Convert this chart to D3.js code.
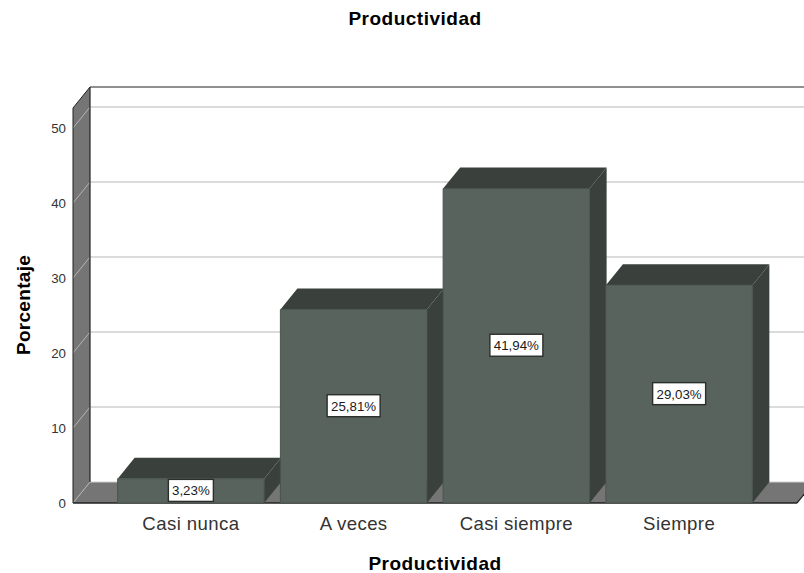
<!DOCTYPE html>
<html><head><meta charset="utf-8">
<script src="https://cdn.jsdelivr.net/npm/d3@7/dist/d3.min.js"></script>
<style>html,body{margin:0;padding:0;background:#fff}svg{display:block}text{font-family:"Liberation Sans",Arial,sans-serif;fill:#1a1a1a}</style>
</head><body><svg id="c" width="804" height="573"></svg>
<script>
const categories=["Casi nunca","A veces","Casi siempre","Siempre"];
const percentages=[3.23,25.81,41.94,29.03];
const valueLabels=["3,23%","25,81%","41,94%","29,03%"];
const yTicks=[0,10,20,30,40,50];
const chartTitle="Productividad", xTitle="Productividad", yTitle="Porcentaje";

const W=804,H=573,dx=17,dy=-21;
const svg=d3.select("#c");
const y=d3.scaleLinear().domain([0,52.67]).range([503,108]);
const x=d3.scaleBand().domain(categories).range([109.5,760.5]).paddingInner(.1).paddingOuter(.05);
const left=73,right=797;
const poly=(pts,fill,stroke)=>svg.append("polygon").attr("points",pts.map(p=>p.join(",")).join(" ")).attr("fill",fill).attr("stroke",stroke||"none").attr("stroke-width",stroke?1:0);
const line=(a,b,c,w)=>svg.append("line").attr("x1",a[0]).attr("y1",a[1]).attr("x2",b[0]).attr("y2",b[1]).attr("stroke",c).attr("stroke-width",w||1);

poly([[left,y(52.67)],[left+dx,y(52.67)+dy],[left+dx,y(0)+dy],[left,y(0)]],"#757575");
poly([[left,y(0)],[left+dx,y(0)+dy],[right+dx,y(0)+dy],[right,y(0)]],"#757575");
yTicks.forEach(t=>{
  if(t>0) line([left+dx,y(t)+dy],[W,y(t)+dy],"#cfcfcf",1.5);
  line([left,y(t)],[left+dx,y(t)+dy],"#b4b4b4",1);
});
line([left+dx,y(0)+dy],[W,y(0)+dy],"#cfcfcf",1);
line([left,y(52.67)],[left+dx,y(52.67)+dy],"#222");
line([left+dx,y(52.67)+dy],[W,y(52.67)+dy],"#222",1.2);
line([left+dx,y(52.67)+dy],[left+dx,y(0)+dy],"#222",1.2);
line([left,y(52.67)],[left,y(0)],"#222");
line([left,y(0)],[right,y(0)],"#222",1.4);
line([right,y(0)],[right+dx,y(0)+dy],"#222",1.2);

categories.forEach((c,i)=>{
  const v=percentages[i],x0=x(c),x1=x0+x.bandwidth(),t=y(v),b=y(0);
  poly([[x0,t],[x0+dx,t+dy],[x1+dx,t+dy],[x1,t]],"#3a413c");
  poly([[x1,t],[x1+dx,t+dy],[x1+dx,b+dy],[x1,b]],"#3a413c");
  poly([[x0,t],[x1,t],[x1,b],[x0,b]],"#59635d","#4a534e");
  const cx=(x0+x1)/2,cy=(t+b)/2-.5,lw=i===0?45:53,lh=Math.min(b-t,22);
  svg.append("rect").attr("x",cx-lw/2).attr("y",cy-lh/2).attr("width",lw).attr("height",lh).attr("fill","#fff").attr("stroke","#2a2f2c").attr("stroke-width",1.4);
  svg.append("text").attr("x",cx).attr("y",cy+5).attr("text-anchor","middle").attr("font-size",13.3).text(valueLabels[i]);
  svg.append("text").attr("x",cx).attr("y",530).attr("text-anchor","middle").attr("font-size",18.6).attr("letter-spacing",.4).style("fill","#333").text(c);
});
yTicks.forEach(t=>svg.append("text").attr("x",66).attr("y",y(t)+5).attr("text-anchor","end").attr("font-size",13.3).style("fill","#333").text(t));
svg.append("text").attr("x",415).attr("y",25).attr("text-anchor","middle").attr("font-size",19).attr("letter-spacing",.5).attr("font-weight","bold").style("fill","#000").text(chartTitle);
svg.append("text").attr("x",435).attr("y",570).attr("text-anchor","middle").attr("font-size",19).attr("letter-spacing",.5).attr("font-weight","bold").style("fill","#000").text(xTitle);
svg.append("text").attr("transform","translate(30,305) rotate(-90)").attr("text-anchor","middle").attr("font-size",19).attr("letter-spacing",.3).attr("font-weight","bold").style("fill","#000").text(yTitle);
</script></body></html>
